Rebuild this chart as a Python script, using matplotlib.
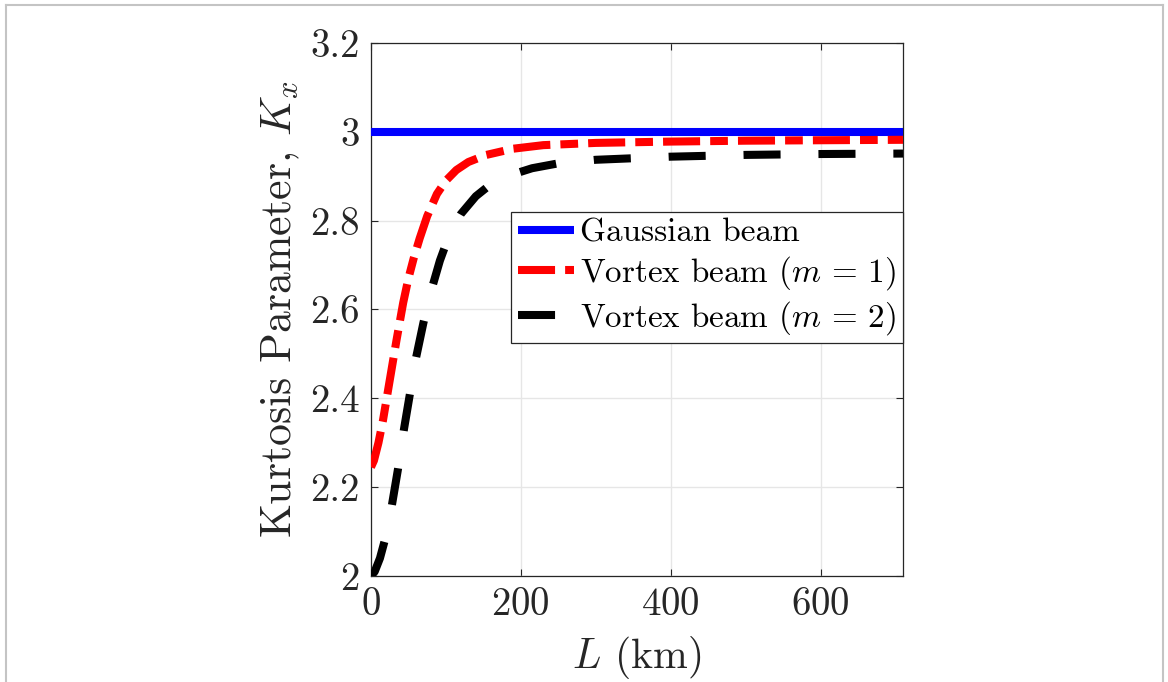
import matplotlib
matplotlib.use("Agg")
import matplotlib.pyplot as plt
from matplotlib.lines import Line2D
from matplotlib.ticker import FuncFormatter

plt.rcParams["font.family"] = "serif"
plt.rcParams["font.serif"] = ["cmr10", "DejaVu Serif"]
plt.rcParams["mathtext.fontset"] = "cm"
plt.rcParams["axes.formatter.use_mathtext"] = True

# values
L_gauss = [0, 710]
K_gauss = [3.0, 3.0]

L_m1 = [0, 4, 10, 16, 25, 34, 43, 50, 57, 65, 75, 88, 100, 114, 130, 154,
        190, 230, 300, 400, 500, 600, 710]
K_m1 = [2.245, 2.26, 2.30, 2.35, 2.44, 2.53, 2.615, 2.67, 2.715, 2.76, 2.81,
        2.86, 2.89, 2.914, 2.932, 2.948, 2.962, 2.970, 2.975, 2.978, 2.980,
        2.981, 2.982]

L_m2 = [0, 5, 12, 20, 28, 36, 44, 52, 60, 70, 80, 92, 105, 120, 140, 160,
        185, 215, 250, 300, 400, 500, 600, 710]
K_m2 = [2.0, 2.01, 2.04, 2.09, 2.16, 2.24, 2.33, 2.41, 2.49, 2.57, 2.64,
        2.71, 2.77, 2.815, 2.855, 2.882, 2.902, 2.918, 2.929, 2.937, 2.944,
        2.948, 2.950, 2.951]

x_ticks = [0, 200, 400, 600]
y_ticks = [2.0, 2.2, 2.4, 2.6, 2.8, 3.0, 3.2]

C_AX = "#262626"

fig = plt.figure(figsize=(11.68, 6.82), dpi=100)
ax = fig.add_axes([0.3176, 0.1554, 0.4555, 0.7816])

lw = 5.8
ax.plot(L_gauss, K_gauss, color="#0000FF", lw=lw, solid_capstyle="butt",
        label="Gaussian beam", zorder=3)
ax.plot(L_m1, K_m1, color="#FF0000", lw=lw, dashes=(4.6, 1.25, 2.2, 1.25),
        label=r"Vortex beam ($m$ = 1)", zorder=4)
ax.plot(L_m2, K_m2, color="black", lw=lw, dashes=(4.6, 4.7),
        label=r"Vortex beam ($m$ = 2)", zorder=4)

ax.set_xlim(0, 710)
ax.set_ylim(2.0, 3.2)
ax.set_xticks(x_ticks)
ax.set_yticks(y_ticks)
ax.yaxis.set_major_formatter(FuncFormatter(lambda v, p: f"{v:g}"))
ax.grid(True, color="#e6e6e6", linewidth=1.0, zorder=0)
ax.set_axisbelow(True)
ax.tick_params(direction="in", length=5, width=0.8, colors=C_AX,
               labelsize=28, top=True, right=True, pad=8)
for s in ax.spines.values():
    s.set_color(C_AX)
    s.set_linewidth(0.9)

ax.set_xlabel(r"$L$ (km)", fontsize=30, color=C_AX, labelpad=8)
ax.set_ylabel(r"Kurtosis Parameter, $K_x$", fontsize=31.5, color=C_AX,
              labelpad=6)

leg = ax.legend(loc="upper right", bbox_to_anchor=(1.0, 0.683),
                borderaxespad=0, fontsize=23.8, handlelength=1.7,
                handletextpad=0.2, labelspacing=0.2, borderpad=0.2,
                fancybox=False, framealpha=1, edgecolor=C_AX)
leg.get_frame().set_linewidth(0.9)

# light frame around the figure
frame_kw = dict(color="#c4c4c4", lw=1.5, transform=fig.transFigure)
fig.add_artist(Line2D([6 / 1168, 6 / 1168], [0, 1 - 5 / 682], **frame_kw))
fig.add_artist(Line2D([6 / 1168, 1163 / 1168], [1 - 5 / 682, 1 - 5 / 682], **frame_kw))
fig.add_artist(Line2D([1163 / 1168, 1163 / 1168], [0, 1 - 5 / 682], **frame_kw))

fig.savefig("out.png", dpi=100)
